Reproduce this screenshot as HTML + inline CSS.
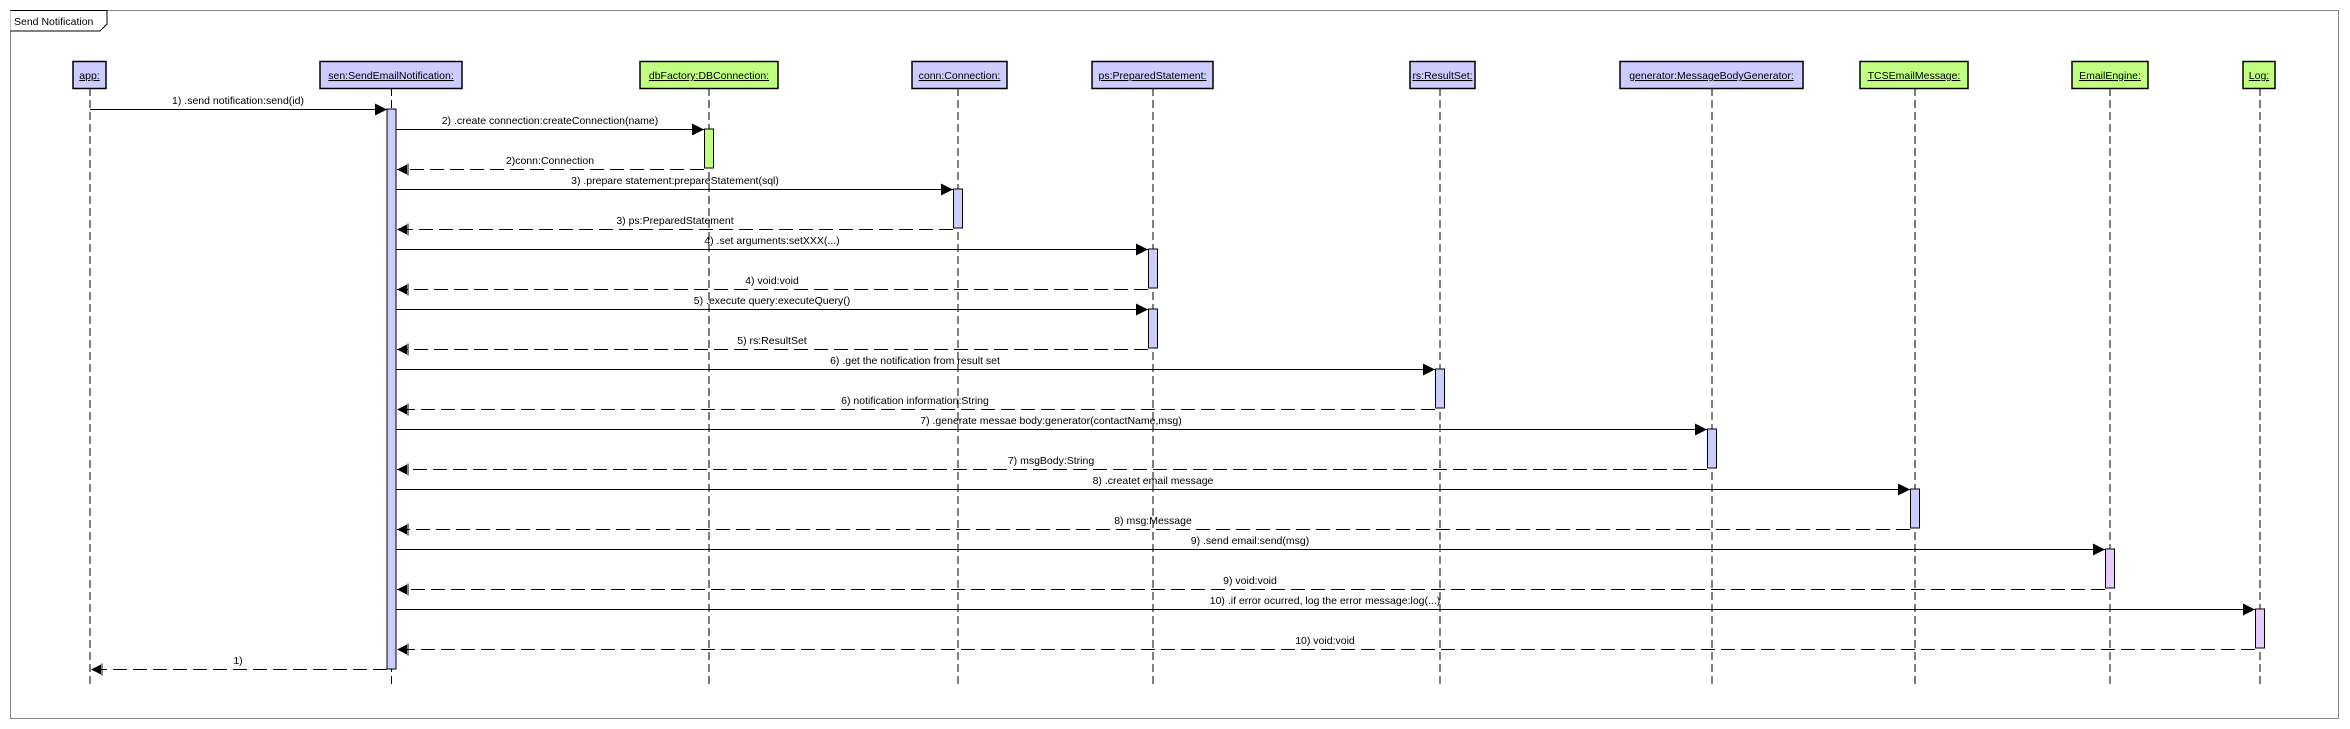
<!DOCTYPE html>
<html><head><meta charset="utf-8"><style>
html,body{margin:0;padding:0;background:#fff;}
svg{display:block;}
text{font-family:"Liberation Sans",sans-serif;font-size:10.5px;fill:#000;}
</style></head><body>
<svg width="2350" height="729" viewBox="0 0 2350 729" xmlns="http://www.w3.org/2000/svg">
<defs>
<marker id="call" markerWidth="12" markerHeight="12" refX="12" refY="6" orient="auto" markerUnits="userSpaceOnUse">
<path d="M0,0 L12,6 L0,12 Z" fill="#000"/></marker>
<marker id="ret" markerWidth="13" markerHeight="12" refX="12" refY="6" orient="auto" markerUnits="userSpaceOnUse">
<path d="M2,1 L12,6 L2,11 Z" fill="#000"/><path d="M1,0 L1,12" stroke="#000" stroke-width="1"/></marker>
</defs>
<rect x="10.5" y="10.5" width="2328" height="708" fill="#fff" stroke="#888" stroke-width="1"/>
<path d="M10.5,10.5 H107 V24 L100,31 H10.5" fill="#fff" stroke="#000"/>
<text x="14" y="25" font-size="11">Send Notification</text>

<g stroke="#000" stroke-width="1" stroke-dasharray="8,4">
<line x1="90" y1="88" x2="90" y2="685"/>
<line x1="391.5" y1="88" x2="391.5" y2="685"/>
<line x1="709" y1="88" x2="709" y2="685"/>
<line x1="958" y1="88" x2="958" y2="685"/>
<line x1="1153" y1="88" x2="1153" y2="685"/>
<line x1="1440" y1="88" x2="1440" y2="685"/>
<line x1="1712" y1="88" x2="1712" y2="685"/>
<line x1="1915" y1="88" x2="1915" y2="685"/>
<line x1="2110" y1="88" x2="2110" y2="685"/>
<line x1="2260" y1="88" x2="2260" y2="685"/>
</g>

<g stroke="#000" stroke-width="1.5">
<rect x="73" y="61.5" width="33" height="27" fill="#ccccff"/>
<rect x="320" y="61.5" width="142" height="27" fill="#ccccff"/>
<rect x="640" y="61.5" width="138" height="27" fill="#c0ff80"/>
<rect x="912" y="61.5" width="95" height="27" fill="#ccccff"/>
<rect x="1092" y="61.5" width="121" height="27" fill="#ccccff"/>
<rect x="1410" y="61.5" width="65" height="27" fill="#ccccff"/>
<rect x="1620" y="61.5" width="183" height="27" fill="#ccccff"/>
<rect x="1860" y="61.5" width="108" height="27" fill="#c0ff80"/>
<rect x="2072" y="61.5" width="76" height="27" fill="#c0ff80"/>
<rect x="2243" y="61.5" width="32" height="27" fill="#c0ff80"/>
</g>
<g text-anchor="middle" text-decoration="underline">
<text x="89.5" y="79">app:</text>
<text x="391" y="79">sen:SendEmailNotification:</text>
<text x="709" y="79">dbFactory:DBConnection:</text>
<text x="959.5" y="79">conn:Connection:</text>
<text x="1152.5" y="79">ps:PreparedStatement:</text>
<text x="1442.5" y="79">rs:ResultSet:</text>
<text x="1711.5" y="79">generator:MessageBodyGenerator:</text>
<text x="1914" y="79">TCSEmailMessage:</text>
<text x="2110" y="79">EmailEngine:</text>
<text x="2259" y="79">Log:</text>
</g>

<g stroke="#000" stroke-width="1">
<rect x="387" y="109" width="9" height="560" fill="#ccccff"/>
<rect x="704.5" y="129" width="9" height="39" fill="#c0ff80"/>
<rect x="953.5" y="189" width="9" height="39" fill="#ccccff"/>
<rect x="1148.5" y="249" width="9" height="39" fill="#ccccff"/>
<rect x="1148.5" y="309" width="9" height="39" fill="#ccccff"/>
<rect x="1435.5" y="369" width="9" height="39" fill="#ccccff"/>
<rect x="1707.5" y="429" width="9" height="39" fill="#ccccff"/>
<rect x="1910.5" y="489" width="9" height="39" fill="#ccccff"/>
<rect x="2105.5" y="549" width="9" height="39" fill="#e8ccff"/>
<rect x="2255.5" y="609" width="9" height="39" fill="#e8ccff"/>
</g>

<g stroke="#000" stroke-width="1" fill="none">
<line x1="90" y1="109.5" x2="387" y2="109.5" marker-end="url(#call)"/>
<line x1="396" y1="129.5" x2="704" y2="129.5" marker-end="url(#call)"/>
<line x1="704" y1="169.5" x2="397" y2="169.5" stroke-dasharray="14,6" marker-end="url(#ret)"/>
<line x1="396" y1="189.5" x2="953" y2="189.5" marker-end="url(#call)"/>
<line x1="953" y1="229.5" x2="397" y2="229.5" stroke-dasharray="14,6" marker-end="url(#ret)"/>
<line x1="396" y1="249.5" x2="1148" y2="249.5" marker-end="url(#call)"/>
<line x1="1148" y1="289.5" x2="397" y2="289.5" stroke-dasharray="14,6" marker-end="url(#ret)"/>
<line x1="396" y1="309.5" x2="1148" y2="309.5" marker-end="url(#call)"/>
<line x1="1148" y1="349.5" x2="397" y2="349.5" stroke-dasharray="14,6" marker-end="url(#ret)"/>
<line x1="396" y1="369.5" x2="1435" y2="369.5" marker-end="url(#call)"/>
<line x1="1435" y1="409.5" x2="397" y2="409.5" stroke-dasharray="14,6" marker-end="url(#ret)"/>
<line x1="396" y1="429.5" x2="1707" y2="429.5" marker-end="url(#call)"/>
<line x1="1707" y1="469.5" x2="397" y2="469.5" stroke-dasharray="14,6" marker-end="url(#ret)"/>
<line x1="396" y1="489.5" x2="1910" y2="489.5" marker-end="url(#call)"/>
<line x1="1910" y1="529.5" x2="397" y2="529.5" stroke-dasharray="14,6" marker-end="url(#ret)"/>
<line x1="396" y1="549.5" x2="2105" y2="549.5" marker-end="url(#call)"/>
<line x1="2105" y1="589.5" x2="397" y2="589.5" stroke-dasharray="14,6" marker-end="url(#ret)"/>
<line x1="396" y1="609.5" x2="2255" y2="609.5" marker-end="url(#call)"/>
<line x1="2255" y1="649.5" x2="397" y2="649.5" stroke-dasharray="14,6" marker-end="url(#ret)"/>
<line x1="387" y1="669.5" x2="91" y2="669.5" stroke-dasharray="14,6" marker-end="url(#ret)"/>
</g>

<g text-anchor="middle">
<text x="238" y="104">1) .send notification:send(id)</text>
<text x="550" y="124">2) .create connection:createConnection(name)</text>
<text x="550" y="164">2)conn:Connection</text>
<text x="675" y="184">3) .prepare statement:prepareStatement(sql)</text>
<text x="675" y="224">3) ps:PreparedStatement</text>
<text x="772" y="244">4) .set arguments:setXXX(...)</text>
<text x="772" y="284">4) void:void</text>
<text x="772" y="304">5) .execute query:executeQuery()</text>
<text x="772" y="344">5) rs:ResultSet</text>
<text x="915" y="364">6) .get the notification from result set</text>
<text x="915" y="404">6) notification information:String</text>
<text x="1051" y="424">7) .generate messae body:generator(contactName,msg)</text>
<text x="1051" y="464">7) msgBody:String</text>
<text x="1153" y="484">8) .createt email message</text>
<text x="1153" y="524">8) msg:Message</text>
<text x="1250" y="544">9) .send email:send(msg)</text>
<text x="1250" y="584">9) void:void</text>
<text x="1325" y="604">10) .if error ocurred, log the error message:log(...)</text>
<text x="1325" y="644">10) void:void</text>
<text x="238" y="664">1)</text>
</g>
</svg>
</body></html>
